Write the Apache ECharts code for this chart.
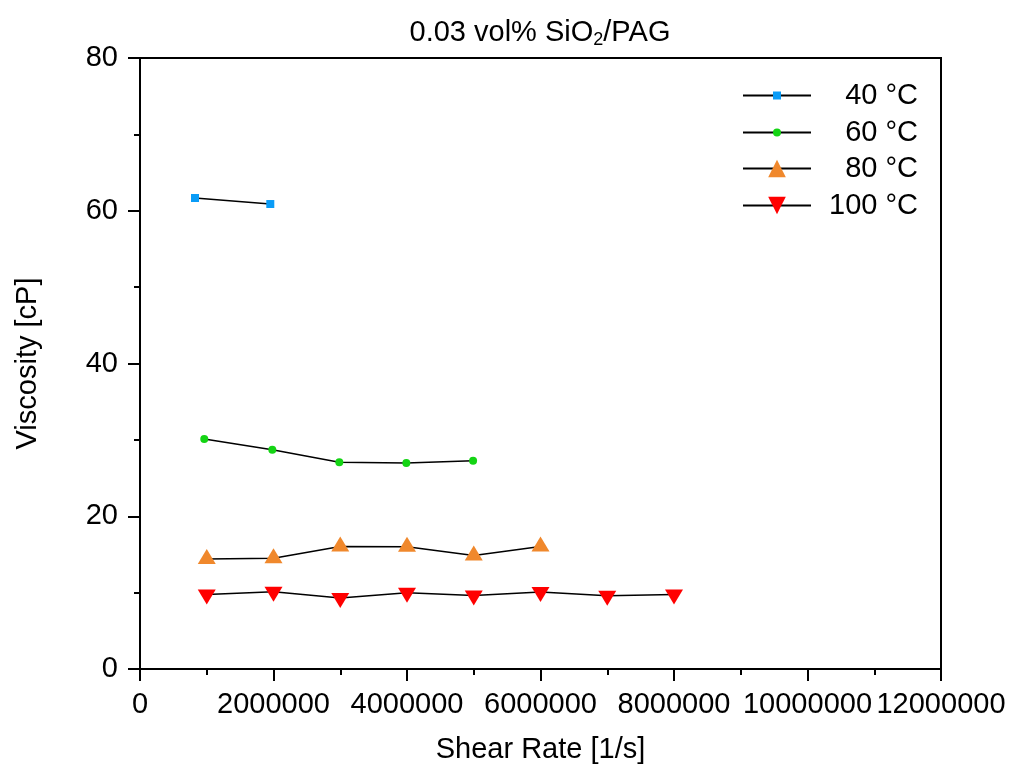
<!DOCTYPE html>
<html>
<head>
<meta charset="utf-8">
<script src="https://cdn.jsdelivr.net/npm/echarts@6/dist/echarts.min.js"></script>
<style>
  html, body { margin: 0; padding: 0; background: #fff; }
  #chart { width: 1011px; height: 767px; }
</style>
</head>
<body>
<div id="chart"></div>
<script>
// shear rate [1/s] / viscosity [cP]
const x40 = [824000, 1952000];
const y40 = [61.67, 60.88];
const x60 = [963000, 1982000, 2986000, 3990000, 4990000];
const y60 = [30.1, 28.7, 27.06, 26.97, 27.27];
const x80 = [1000000, 2000000, 3000000, 4000000, 5000000, 6000000];
const y80 = [14.39, 14.5, 16.05, 16.02, 14.87, 16.05];
const x100 = [1000000, 2000000, 3000000, 4000000, 5000000, 6000000, 7000000, 8000000];
const y100 = [9.77, 10.12, 9.31, 9.99, 9.62, 10.07, 9.59, 9.77];
const seriesNames = ['40 °C', '60 °C', '80 °C', '100 °C'];

const FONT = 'Liberation Sans, Arial, sans-serif';
const FS = 29;
const pairs = (xs, ys) => xs.map((x, i) => [x, ys[i]]);

const chart = echarts.init(document.getElementById('chart'));

const lineSeries = (name, data, symbol, size, color, extra) => Object.assign({
  name: name,
  type: 'line',
  data: data,
  symbol: symbol,
  symbolSize: size,
  lineStyle: { color: '#000', width: 1.5 },
  itemStyle: { color: color },
  emphasis: { disabled: true },
  z: 3
}, extra || {});

// one legend per row so each icon can have its own marker size
const legendRow = (name, centerY, iconH) => ({
  orient: 'vertical',
  left: 742,
  top: centerY - 12,
  padding: 0,
  itemWidth: 68,
  itemHeight: iconH,
  data: [name],
  formatter: n => '{a|' + n + '}',
  textStyle: {
    rich: { a: { fontFamily: FONT, fontSize: FS, color: '#000', width: 102, align: 'right', lineHeight: 24 } }
  }
});

const axisCommon = {
  nameLocation: 'middle',
  nameTextStyle: { fontFamily: FONT, fontSize: FS, color: '#000' },
  axisLine: { lineStyle: { color: '#000', width: 2 } },
  axisTick: { inside: false, length: 12, lineStyle: { color: '#000', width: 2 } },
  minorTick: { show: true, splitNumber: 2, length: 6, lineStyle: { color: '#000', width: 2 } },
  splitLine: { show: false }
};

chart.setOption({
  animation: false,
  title: {
    text: '{t|0.03 vol% SiO}{s|2}{t|/PAG}',
    left: 535,
    textAlign: 'center',
    top: 12,
    textStyle: {
      fontWeight: 'normal',
      rich: {
        t: { fontFamily: FONT, fontSize: 29, fontWeight: 'normal', color: '#000', lineHeight: 32 },
        s: { fontFamily: FONT, fontSize: 18, fontWeight: 'normal', color: '#000', lineHeight: 18, verticalAlign: 'bottom' }
      }
    }
  },
  legend: [
    legendRow(seriesNames[0], 93, 10),
    legendRow(seriesNames[1], 130, 10),
    legendRow(seriesNames[2], 166, 22),
    legendRow(seriesNames[3], 203, 22)
  ],
  grid: {
    left: 140, right: 70, top: 58, bottom: 98,
    outerBoundsMode: 'none',
    containLabel: false,
    show: true, borderColor: '#000', borderWidth: 2
  },
  xAxis: Object.assign({}, axisCommon, {
    type: 'value',
    min: 0, max: 12000000, interval: 2000000,
    name: 'Shear Rate [1/s]',
    nameGap: 66,
    axisLabel: { fontFamily: FONT, fontSize: FS, color: '#000', margin: 21, formatter: v => String(v) }
  }),
  yAxis: Object.assign({}, axisCommon, {
    type: 'value',
    min: 0, max: 80, interval: 20,
    name: 'Viscosity [cP]',
    nameGap: 98,
    axisLabel: { fontFamily: FONT, fontSize: FS, color: '#000', margin: 22 }
  }),
  series: [
    lineSeries(seriesNames[0], pairs(x40, y40), 'rect', 8, '#0a9cf7'),
    lineSeries(seriesNames[1], pairs(x60, y60), 'circle', 8, '#14d414'),
    lineSeries(seriesNames[2], pairs(x80, y80), 'triangle', [18, 15], '#f0882c', { symbolOffset: [0, -2.5] }),
    lineSeries(seriesNames[3], pairs(x100, y100), 'triangle', [18, 15], '#ff0000', { symbolRotate: 180, symbolOffset: [0, 2.5] })
  ]
});
</script>
</body>
</html>
